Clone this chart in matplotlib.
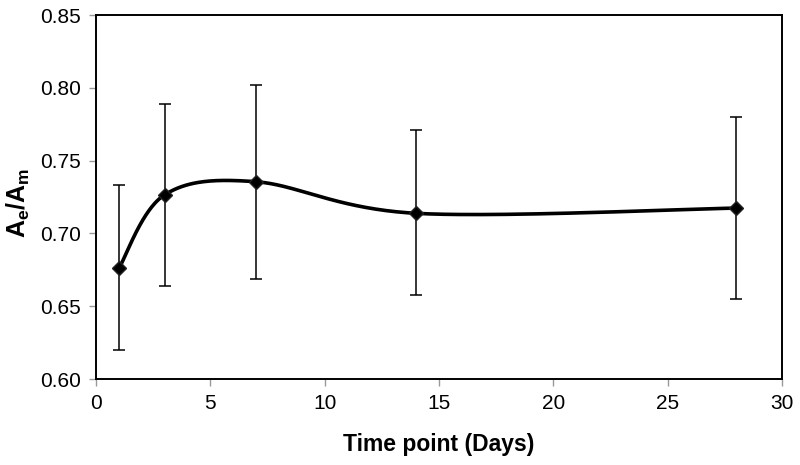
import numpy as np
import matplotlib
matplotlib.use("Agg")
import matplotlib.pyplot as plt

days = [1, 3, 7, 14, 28]
ratio = [0.676, 0.7265, 0.7355, 0.7138, 0.7174]
err_upper = [0.7332, 0.7889, 0.8021, 0.7708, 0.7801]
err_lower = [0.6197, 0.6639, 0.6688, 0.6579, 0.6552]
xticks = [0, 5, 10, 15, 20, 25, 30]
yticks = [0.60, 0.65, 0.70, 0.75, 0.80, 0.85]

plt.rcParams['font.family'] = ['Liberation Sans', 'DejaVu Sans']
plt.rcParams['mathtext.fontset'] = 'custom'
plt.rcParams['mathtext.rm'] = 'Liberation Sans:bold'
plt.rcParams['mathtext.bf'] = 'Liberation Sans:bold'
plt.rcParams['mathtext.it'] = 'Liberation Sans:bold'

fig = plt.figure(figsize=(8, 4.65), dpi=100)
ax = fig.add_axes([0.12, 0.1849, 0.8575, 0.7828])
ax.set_xlim(0, 30)
ax.set_ylim(0.60, 0.85)

# Excel-style smoothed line (Catmull-Rom in display space)
x = np.array(days, float)
y = np.array(ratio, float)
sx = 688 / 30.0
sy = 364 / 0.25
px = x * sx
py = (y - 0.6) * sy
P = np.column_stack([px, py])
Pext = np.vstack([P[0], P, P[-1]])
curve = []
for i in range(len(P) - 1):
    p0, p1, p2, p3 = Pext[i], Pext[i + 1], Pext[i + 2], Pext[i + 3]
    c1 = p1 + (p2 - p0) / 6.0
    c2 = p2 - (p3 - p1) / 6.0
    t = np.linspace(0, 1, 60)[:, None]
    b = ((1 - t) ** 3) * p1 + 3 * ((1 - t) ** 2) * t * c1 + 3 * (1 - t) * t ** 2 * c2 + t ** 3 * p2
    curve.append(b)
curve = np.vstack(curve)
ax.plot(curve[:, 0] / sx, curve[:, 1] / sy + 0.6, color='black', lw=2.6, zorder=3)

yerr = [np.array(ratio) - np.array(err_lower), np.array(err_upper) - np.array(ratio)]
ax.errorbar(days, ratio, yerr=yerr, fmt='none', ecolor='black', elinewidth=1.1,
            capsize=4.5, capthick=1.1, zorder=2)
ax.plot(days, ratio, linestyle='none', marker='D', markersize=7.5, color='black',
        markeredgecolor='#222222', zorder=4)

ax.set_xticks(xticks)
ax.set_yticks(yticks)
ax.set_xticklabels([str(v) for v in xticks])
ax.set_yticklabels([f"{v:.2f}" for v in yticks])
ax.tick_params(axis='both', direction='out', length=5, width=1, color='#999999',
               labelsize=15, pad=6)
for s in ax.spines.values():
    s.set_linewidth(1.4)
    s.set_color('black')

ax.set_xlabel('Time point (Days)', fontsize=16.5, fontweight='bold', labelpad=14)
ax.set_ylabel(r'$\mathbf{A_e/A_m}$', fontsize=18)
ax.yaxis.set_label_coords(-0.093, 0.485)

fig.savefig('out.png', dpi=100)
